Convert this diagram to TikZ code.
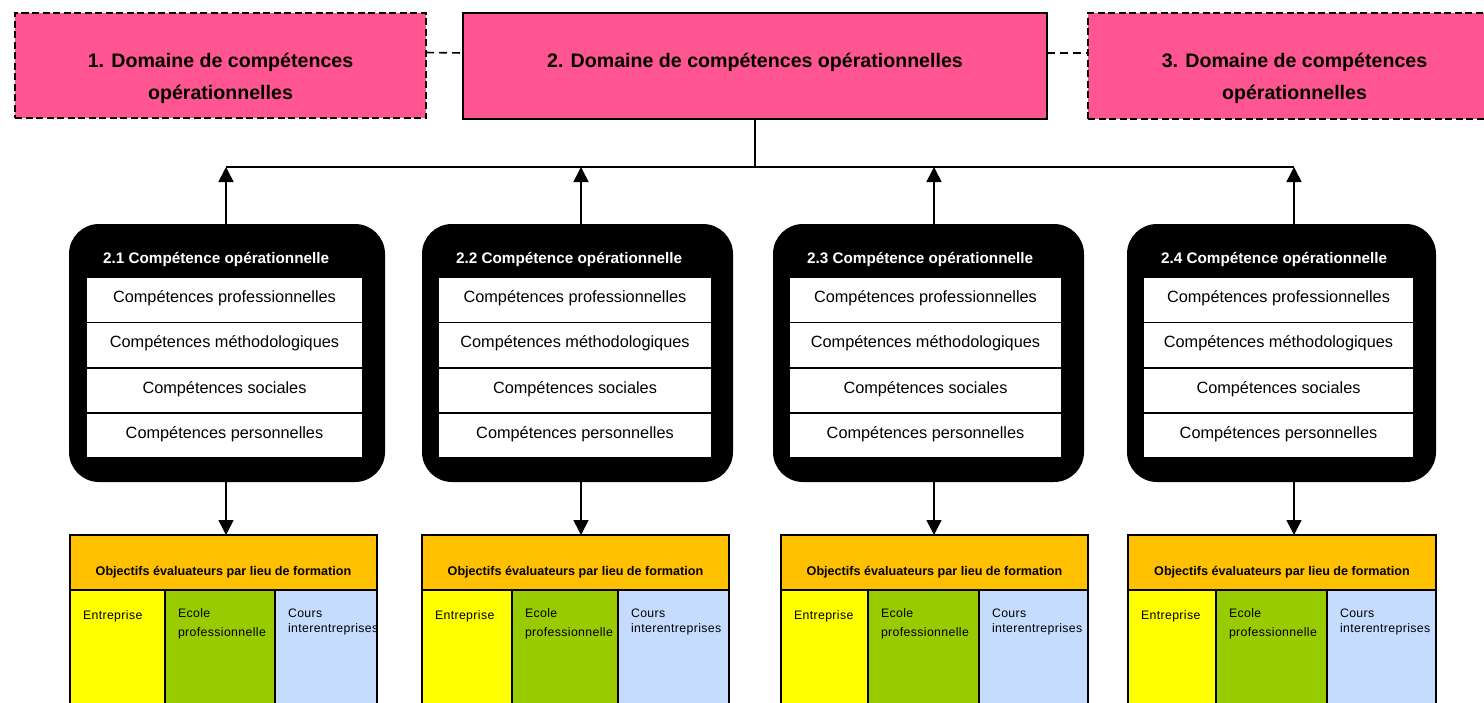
\documentclass[tikz,border=0pt]{standalone}
\usepackage{fontspec}
\setmainfont{Liberation Sans}
\newfontfamily\spacedfont[LetterSpace=3]{Liberation Sans}
\usetikzlibrary{arrows.meta}
\definecolor{pinkbox}{RGB}{255,85,145}
\definecolor{orangebox}{RGB}{255,192,0}
\definecolor{yellowbox}{RGB}{255,255,0}
\definecolor{greenbox}{RGB}{153,204,0}
\definecolor{bluebox}{RGB}{197,220,255}
\begin{document}
\begin{tikzpicture}[x=1pt,y=-1pt,
  every node/.style={inner sep=0pt, outer sep=0pt},
  rectbox/.style={rectangle, anchor=north west},
  domainbox/.style={rectbox, fill=pinkbox, draw=black, line width=1.8pt},
  domaindash/.style={domainbox, line width=2.2pt, dash pattern=on 7pt off 3.5pt},
  domaintext/.style={anchor=base, font=\fontsize{19.6}{23}\selectfont\bfseries},
  compbox/.style={rectbox, fill=black, rounded corners=30pt},
  comptitle/.style={anchor=base west, text=white, font=\fontsize{15.3}{18}\selectfont\bfseries},
  rowbox/.style={rectbox, fill=white, text height=6pt, text depth=0pt, font=\fontsize{16.3}{19}\selectfont},
  objbox/.style={rectbox, fill=orangebox, draw=black, line width=1.8pt},
  objtext/.style={anchor=base, font=\fontsize{12.6}{15}\selectfont\bfseries},
  cellbox/.style={rectbox, draw=black, line width=2pt},
  celltext/.style={anchor=base west, font=\spacedfont\fontsize{12.3}{15}\selectfont},
  link/.style={line width=1.6pt, draw=black},
  arrowlink/.style={link, -{Triangle[length=15pt,width=15pt]}},
  dashlink/.style={link, dash pattern=on 8pt off 5pt},
]
\useasboundingbox (0,0) rectangle (1484,702);

% top domain boxes
\node[domaindash, minimum width=411, minimum height=105] (d1) at (15,13) {};
\node[domainbox, minimum width=584, minimum height=106] (d2) at (463,13) {};
\node[domaindash, minimum width=412, minimum height=106] (d3) at (1088,13) {};
\node[domaintext] (t1a) at (220.5,67) {1. Domaine de compétences};
\node[domaintext] (t1b) at (220.5,99) {opérationnelles};
\node[domaintext] (t2) at (755,67) {2. Domaine de compétences opérationnelles};
\node[domaintext] (t3a) at (1294.5,67) {3. Domaine de compétences};
\node[domaintext] (t3b) at (1294.5,99) {opérationnelles};

\draw[dashlink] ([yshift=13pt]d1.east) -- ([yshift=13pt]d2.west);
\draw[dashlink] ([yshift=13pt]d2.east) -- ([yshift=13pt]d3.west);

% junction line
\coordinate (j1) at (226,167);
\coordinate (j2) at (581,167);
\coordinate (j3) at (934,167);
\coordinate (j4) at (1294,167);
\draw[link] (j1) -- (j4);
\draw[link] (d2.south) -- (d2.south |- j1);

\foreach \n/\ra/\rb/\ia/\ib/\oa/\ob/\ba/\bb in {
  1/69/385/87/362/70/377/165/275,
  2/422/733/439/711/422/729/512/618,
  3/773/1084/790/1061/781/1088/868/979,
  4/1127/1436/1144/1413/1128/1436/1216/1327}{
  \node[compbox, minimum width={\rb-\ra}, minimum height=258] (rb\n) at (\ra,224) {};
  \node[comptitle] (ct\n) at (\ra+34,263) {2.\n\ Compétence opérationnelle};
  \node[rowbox, minimum width={\ib-\ia}, minimum height=43.5] (r\n a) at (\ia,278) {Compétences professionnelles};
  \node[rowbox, minimum width={\ib-\ia}, minimum height=43.5] (r\n b) at (\ia,323) {Compétences méthodologiques};
  \node[rowbox, minimum width={\ib-\ia}, minimum height=43.5] (r\n c) at (\ia,368.5) {Compétences sociales};
  \node[rowbox, minimum width={\ib-\ia}, minimum height=43.5] (r\n d) at (\ia,413.5) {Compétences personnelles};
  % objectives
  \node[objbox, minimum width={\ob-\oa}, minimum height=55] (o\n) at (\oa,535) {};
  \node[objtext] (ot\n) at ({(\oa+\ob)/2},575) {Objectifs évaluateurs par lieu de formation};
  \node[cellbox, fill=yellowbox, minimum width={\ba-\oa}, minimum height=130] (y\n) at (\oa,590) {};
  \node[cellbox, fill=greenbox, minimum width={\bb-\ba}, minimum height=130] (g\n) at (\ba,590) {};
  \node[cellbox, fill=bluebox, minimum width={\ob-\bb}, minimum height=130] (b\n) at (\bb,590) {};
  \node[celltext] (yt\n) at (\oa+13,619) {Entreprise};
  \node[celltext] (gt\n) at (\ba+13,617) {Ecole};
  \node[celltext] (gu\n) at (\ba+13,636) {professionnelle};
  \node[celltext] (bt\n) at (\bb+13,617) {Cours};
  \node[celltext] (bu\n) at (\bb+13,632) {interentreprises};
  % arrows
  \draw[arrowlink] (rb\n.north -| j\n) -- (j\n);
  \draw[arrowlink] (rb\n.south -| j\n) -- (o\n.north -| j\n);
}
\end{tikzpicture}
\end{document}
